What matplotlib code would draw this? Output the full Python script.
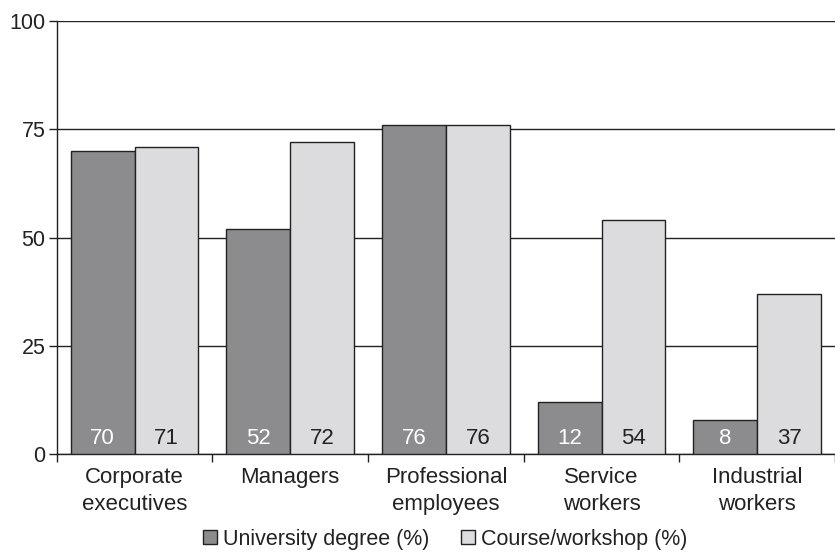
import matplotlib.pyplot as plt
import numpy as np

plt.rcParams['font.family'] = ['Liberation Sans', 'DejaVu Sans']

categories = ["Corporate\nexecutives", "Managers", "Professional\nemployees",
              "Service\nworkers", "Industrial\nworkers"]
university = [70, 52, 76, 12, 8]
course = [71, 72, 76, 54, 37]

dark = '#8c8c8e'
light = '#dcdcde'

fig = plt.figure(figsize=(8.35, 5.54), dpi=100)
ax = fig.add_axes([0.068, 0.18, 0.932, 0.782])

x = np.arange(len(categories))
w = 0.41
b1 = ax.bar(x - w / 2, university, w, color=dark, edgecolor='#222222', linewidth=1,
            label='University degree (%)', zorder=3)
b2 = ax.bar(x + w / 2, course, w, color=light, edgecolor='#222222', linewidth=1,
            label='Course/workshop (%)', zorder=3)

# value labels sit near the bottom of each bar
for xi, v in zip(x - w / 2, university):
    ax.text(xi, 3.6, str(v), ha='center', va='center', color='white', fontsize=16, zorder=4)
for xi, v in zip(x + w / 2, course):
    ax.text(xi, 3.6, str(v), ha='center', va='center', color='#222222', fontsize=16, zorder=4)

ax.set_xlim(-0.5, len(categories) - 0.5)
ax.set_ylim(0, 100)
ax.set_yticks([0, 25, 50, 75, 100])
ax.yaxis.grid(True, color='#222222', linewidth=1)
ax.set_axisbelow(True)
ax.tick_params(axis='y', labelsize=15.5, length=6, width=1, color='#222222', pad=2,
               labelcolor='#222222')

# category ticks at group boundaries, labels centred under groups
ax.set_xticks(np.arange(len(categories) + 1) - 0.5)
ax.set_xticklabels([])
ax.set_xticks(x, minor=True)
ax.set_xticklabels(categories, minor=True, fontsize=16, color='#222222', linespacing=1.4)
ax.tick_params(axis='x', which='major', length=6, width=1, color='#222222')
ax.tick_params(axis='x', which='minor', length=0, pad=9)

for s in ['top', 'right']:
    ax.spines[s].set_visible(False)
for s in ['left', 'bottom']:
    ax.spines[s].set_color('#222222')
    ax.spines[s].set_linewidth(1)

fig.legend(handles=[b1, b2], loc='center', bbox_to_anchor=(0.533, 0.027), ncol=2,
           frameon=False, fontsize=15.5, handlelength=0.65, handleheight=0.65,
           handletextpad=0.25, columnspacing=1.5, labelcolor='#222222')

plt.savefig('out.png', dpi=100)
